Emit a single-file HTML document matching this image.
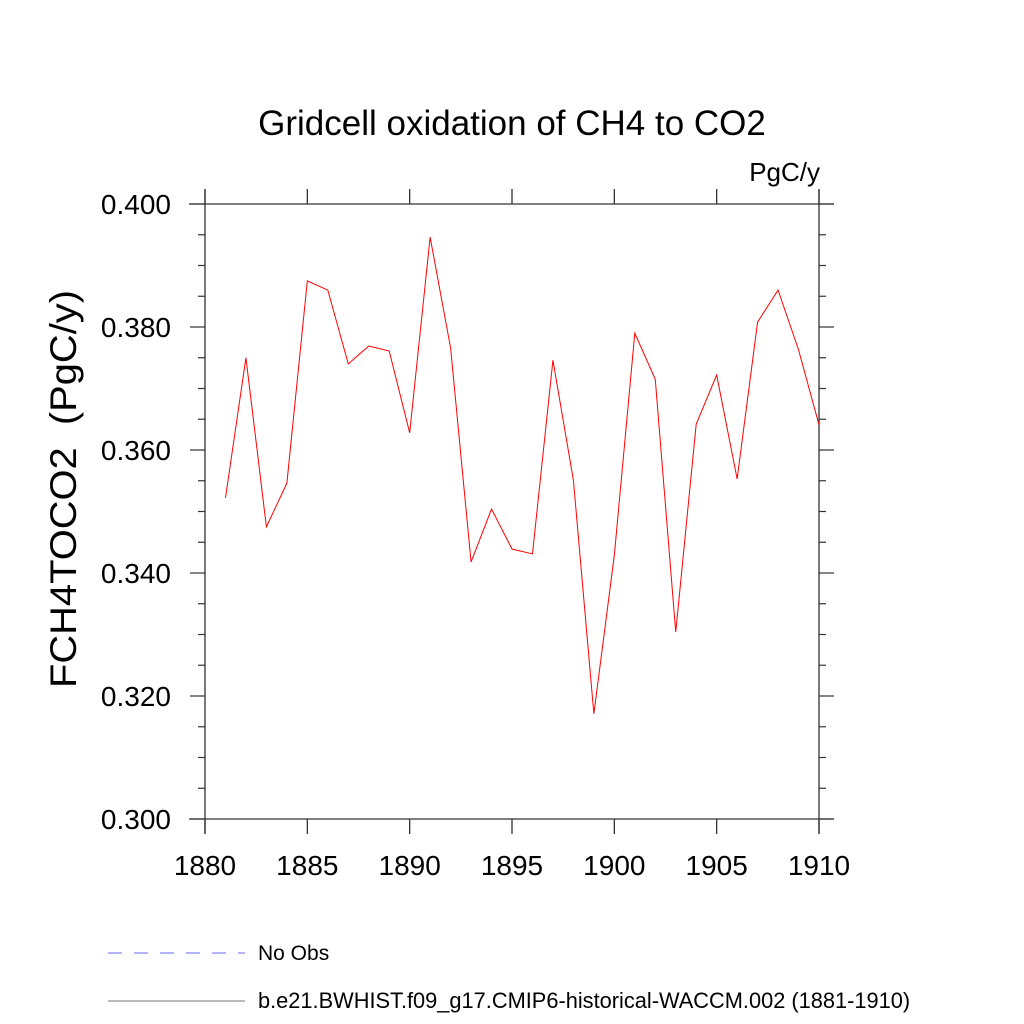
<!DOCTYPE html>
<html><head><meta charset="utf-8"><style>body{margin:0;background:#fff}svg{display:block}text{font-family:"Liberation Sans",sans-serif}</style></head>
<body>
<svg id="chart" width="1024" height="1024" viewBox="0 0 1024 1024" xmlns="http://www.w3.org/2000/svg">
<text x="512" y="135" font-size="35" text-anchor="middle">Gridcell oxidation of CH4 to CO2</text>
<text x="820" y="181" font-size="26" text-anchor="end">PgC/y</text>
<text transform="translate(76,489) rotate(-90)" font-size="37" textLength="398" lengthAdjust="spacingAndGlyphs" text-anchor="middle">FCH4TOCO2&#160;&#160;(PgC/y)</text>
<g id="frame" stroke="#333" stroke-width="1.3"></g>
<g id="ticks"></g>
<polyline id="series" fill="none" stroke="#ff0000" stroke-width="1"/>
<g>
<line x1="108" y1="953" x2="245" y2="953" stroke="#6a6aff" stroke-width="1" stroke-dasharray="14,12"/>
<text x="258" y="960" font-size="21">No Obs</text>
<line x1="108" y1="1001" x2="245" y2="1001" stroke="#777" stroke-width="1"/>
<text x="258" y="1008" font-size="21.8">b.e21.BWHIST.f09_g17.CMIP6-historical-WACCM.002 (1881-1910)</text>
</g>
</svg>
<script>
const years=[1881,1882,1883,1884,1885,1886,1887,1888,1889,1890,1891,1892,1893,1894,1895,1896,1897,1898,1899,1900,1901,1902,1903,1904,1905,1906,1907,1908,1909,1910];
const values=[0.3522,0.375,0.3475,0.3546,0.3875,0.386,0.374,0.3769,0.3761,0.3628,0.3946,0.3766,0.3418,0.3504,0.3439,0.3431,0.3746,0.3551,0.3171,0.3429,0.379,0.3715,0.3304,0.3642,0.3722,0.3553,0.3808,0.386,0.3763,0.3641];
const xTicks=[1880,1885,1890,1895,1900,1905,1910];
const yTicks=["0.300","0.320","0.340","0.360","0.380","0.400"];
const NS="http://www.w3.org/2000/svg";
const X0=205,X1=819,Y0=819,Y1=204;
const xs=v=>X0+(v-1880)/30*(X1-X0);
const ys=v=>Y0-(v-0.3)/0.1*(Y0-Y1);
function mk(t,a,p){const e=document.createElementNS(NS,t);for(const k in a)e.setAttribute(k,a[k]);p.appendChild(e);return e;}
const fr=document.getElementById('frame');
[[X0,189,X0,834],[X1,189,X1,834],[189,Y1,834,Y1],[189,Y0,834,Y0]].forEach(c=>{
 const l=mk('line',{x1:c[0],y1:c[1],x2:c[2],y2:c[3]},fr);
 
 
});
const tk=document.getElementById('ticks');
xTicks.forEach(v=>{
 const x=xs(v);
 const a=mk('line',{x1:x,y1:189,x2:x,y2:Y1,stroke:'#333','stroke-width':1.3},tk);
 
 
 const b=mk('line',{x1:x,y1:Y0,x2:x,y2:834,stroke:'#333','stroke-width':1.3},tk);
 
 
 const t=mk('text',{x:x,y:875,'font-size':28,'text-anchor':'middle'},tk);
 t.textContent=v;
 
 
});
for(let i=0;i<=20;i++){
 const v=0.3+i*0.005,y=ys(v),maj=i%4===0;
 const a=mk('line',{x1:maj?190:198,y1:y,x2:X0,y2:y,stroke:'#333','stroke-width':1.2},tk);
 
 
 const b=mk('line',{x1:X1,y1:y,x2:maj?834:826,y2:y,stroke:'#333','stroke-width':1.2},tk);
 
 
}
yTicks.forEach(s=>{
 const t=mk('text',{x:171,y:ys(parseFloat(s))+10,'font-size':28,'text-anchor':'end'},tk);
 t.textContent=s;
 
 
});
document.getElementById('series').setAttribute('points',years.map((y,i)=>xs(y)+','+ys(values[i])).join(' '));
</script>
</body></html>
